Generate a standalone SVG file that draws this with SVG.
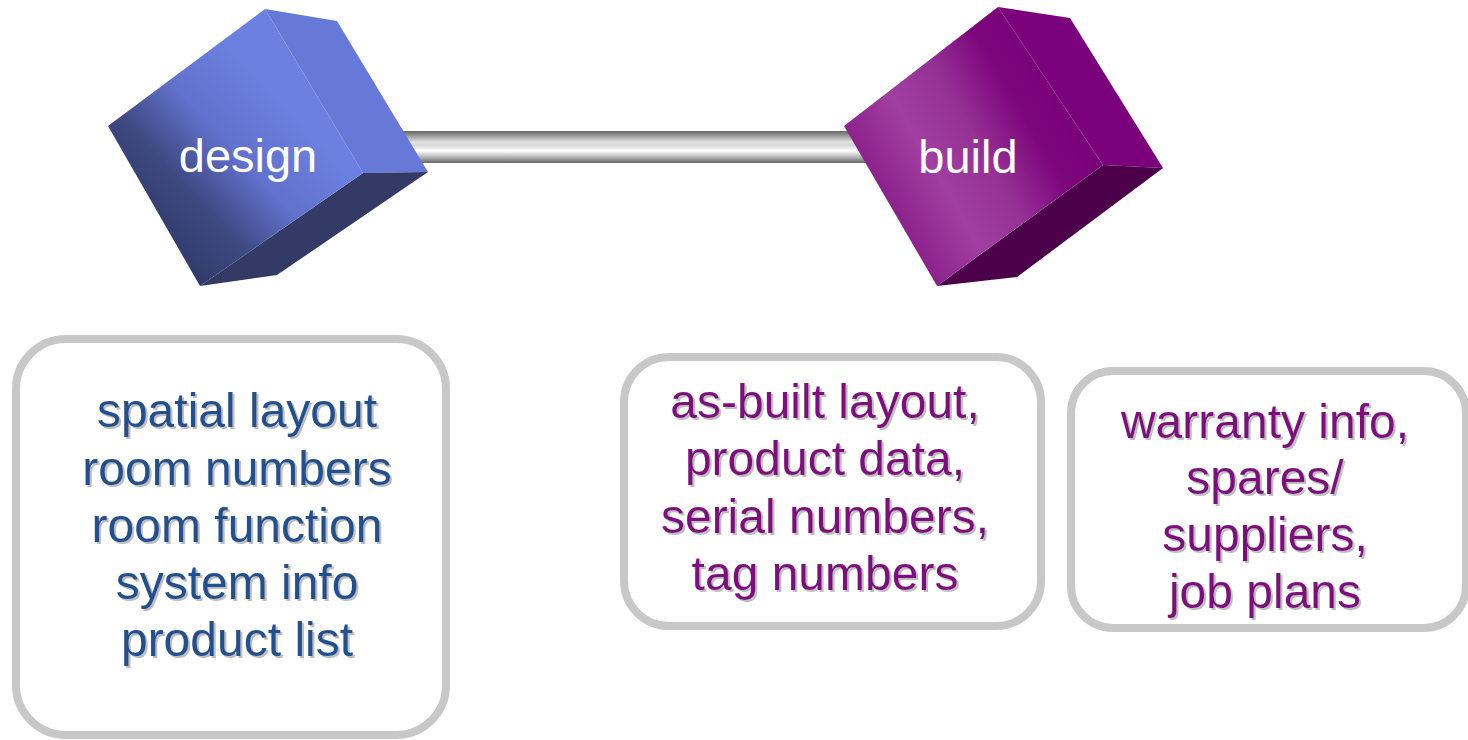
<svg xmlns="http://www.w3.org/2000/svg" width="1468" height="740" viewBox="0 0 1468 740">
<style>
.box{fill:#ffffff;stroke:#c8c8c8;stroke-width:8}
.lbl{font-family:"Liberation Sans",Arial,sans-serif;font-size:47px;fill:#ffffff;text-anchor:middle}
.txt{font-family:"Liberation Sans",Arial,sans-serif;font-size:48px;text-anchor:middle;filter:url(#sh)}
.blue{fill:#21508e}
.purp{fill:#7e0a7e}
</style>
<defs>
<filter id="sh" x="-10%" y="-20%" width="120%" height="150%">
<feDropShadow dx="2" dy="2" stdDeviation="0.7" flood-color="#a8a8a8" flood-opacity="0.75"/>
</filter>
<linearGradient id="bar" x1="0" y1="0" x2="0" y2="1">
<stop offset="0" stop-color="#676767"/>
<stop offset="0.15" stop-color="#9a9a9a"/>
<stop offset="0.35" stop-color="#e2e2e2"/>
<stop offset="0.45" stop-color="#d6d6d6"/>
<stop offset="0.62" stop-color="#ffffff"/>
<stop offset="0.82" stop-color="#b4b4b4"/>
<stop offset="1" stop-color="#666666"/>
</linearGradient>
<linearGradient id="dfront" gradientUnits="userSpaceOnUse" x1="160" y1="240" x2="295" y2="115">
<stop offset="0" stop-color="#323b6b"/>
<stop offset="0.3" stop-color="#3e4982"/>
<stop offset="0.62" stop-color="#6171cc"/>
<stop offset="1" stop-color="#6b80e0"/>
</linearGradient>
<linearGradient id="bfront" gradientUnits="userSpaceOnUse" x1="880" y1="200" x2="1060" y2="95">
<stop offset="0" stop-color="#8a1e8a"/>
<stop offset="0.3" stop-color="#a13fa1"/>
<stop offset="0.55" stop-color="#953095"/>
<stop offset="0.8" stop-color="#7c067c"/>
<stop offset="1" stop-color="#7a007a"/>
</linearGradient>
</defs>
<g id="connectors">
<rect x="400" y="131" width="480" height="32" fill="url(#bar)"/>
</g>
<g id="design">
<polygon points="265,9 337,21 428,172 363,173" fill="#6679d8"/>
<polygon points="363,173 428,172 277,275 200,286" fill="#333a66"/>
<polygon points="265,9 363,173 200,286 108,126" fill="url(#dfront)"/>
<text class="lbl" x="248" y="172">design</text>
</g>
<g id="build">
<polygon points="998,7 1070,18 1163,168 1103,165" fill="#7b007b"/>
<polygon points="1103,165 1163,168 1017,277 937,286" fill="#4b0049"/>
<polygon points="998,7 1103,165 937,286 844,126" fill="url(#bfront)"/>
<text class="lbl" x="968" y="173">build</text>
</g>
<g id="box-design">
<rect class="box" x="16" y="339" width="430" height="396" rx="50"/>
<text class="txt blue" x="237" y="427">spatial layout</text>
<text class="txt blue" x="237" y="485">room numbers</text>
<text class="txt blue" x="237" y="542">room function</text>
<text class="txt blue" x="237" y="599">system info</text>
<text class="txt blue" x="237" y="656">product list</text>
</g>
<g id="box-build">
<rect class="box" x="624" y="357" width="417" height="269" rx="45"/>
<text class="txt purp" x="825" y="418">as-built layout,</text>
<text class="txt purp" x="825" y="475">product data,</text>
<text class="txt purp" x="825" y="533">serial numbers,</text>
<text class="txt purp" x="825" y="590">tag numbers</text>
</g>
<g id="box-operate">
<rect class="box" x="1071" y="371" width="395" height="257" rx="42"/>
<text class="txt purp" x="1265" y="438">warranty info,</text>
<text class="txt purp" x="1265" y="494">spares/</text>
<text class="txt purp" x="1265" y="551">suppliers,</text>
<text class="txt purp" x="1265" y="608">job plans</text>
</g>
</svg>
